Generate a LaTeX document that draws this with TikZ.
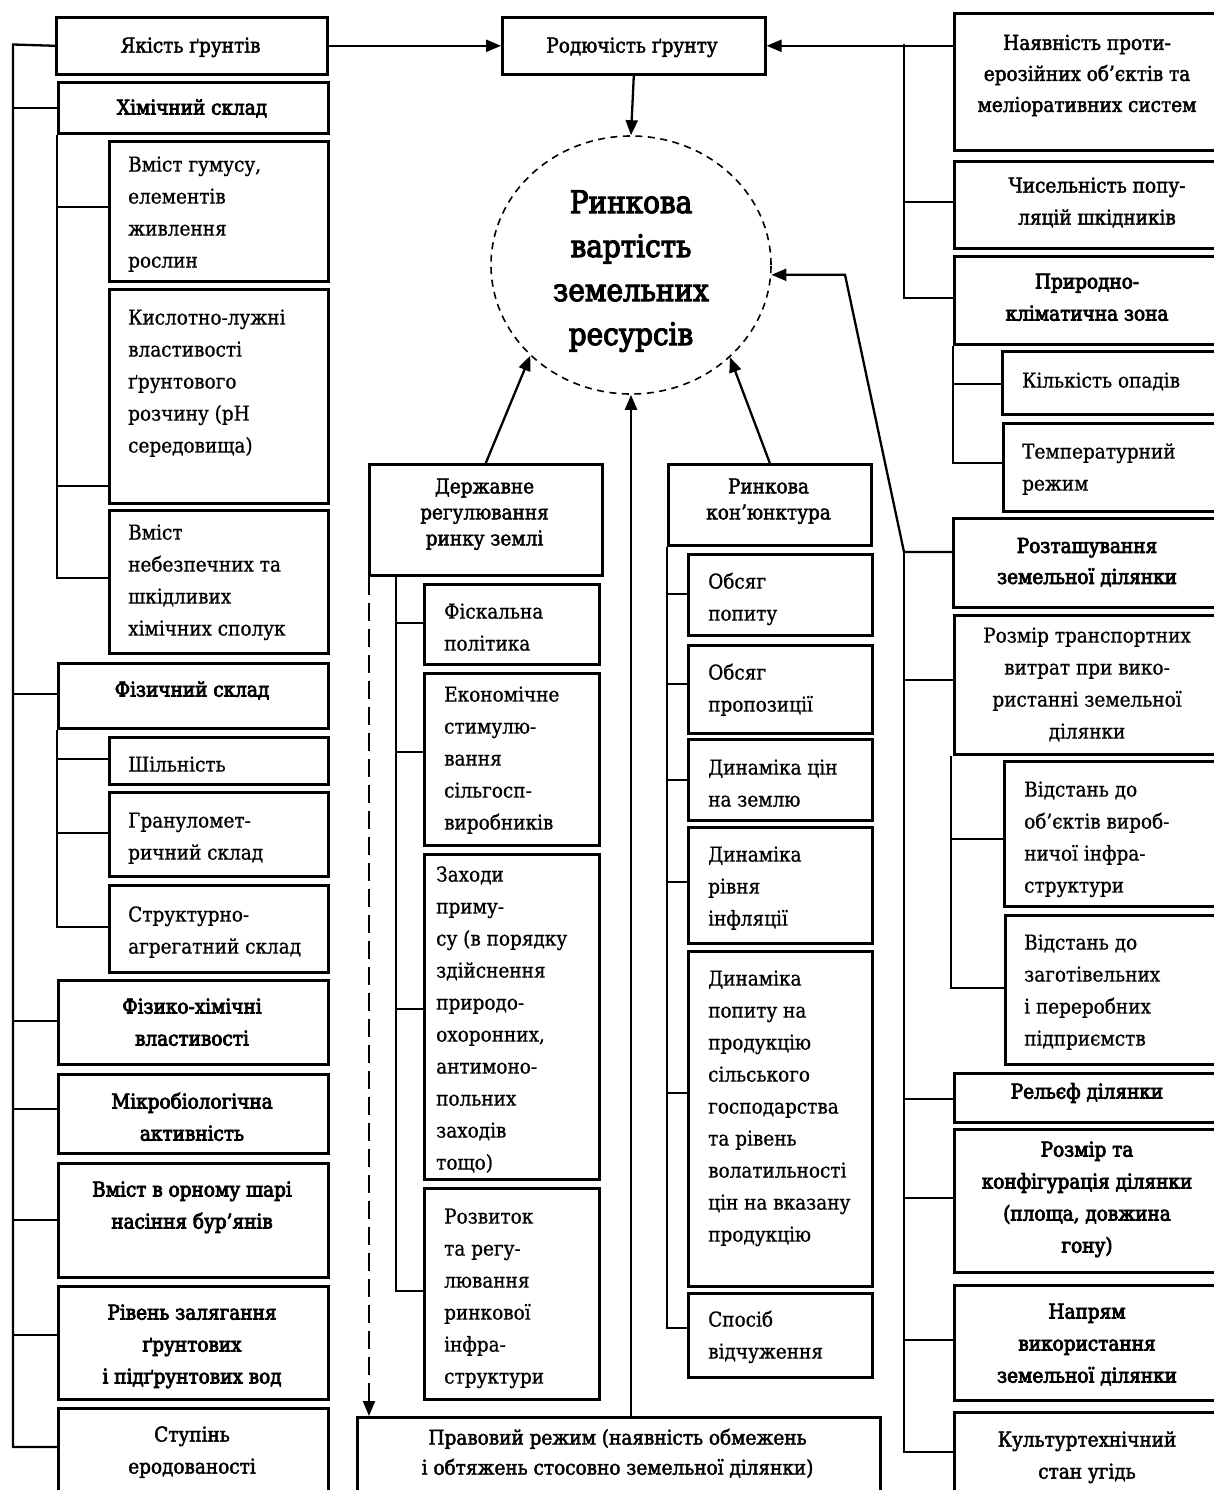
\documentclass[tikz,border=0pt]{standalone}
\usepackage{fontspec}
\setmainfont{DejaVu Serif Condensed}[FakeBold=0.8]
\newfontfamily\bdfam{DejaVu Serif Condensed}[FakeBold=3.6]
\newfontfamily\mdfam{DejaVu Serif Condensed}[FakeBold=2.0]
\usetikzlibrary{arrows.meta,shapes.geometric}
\newcommand\myR{\fontsize{20.5}{32}\selectfont}
\newcommand\myB{\bdfam\fontsize{20.5}{32}\selectfont}
\newcommand\myM{\mdfam\fontsize{20.5}{32}\selectfont}
\newcommand\bxn[5]{\node[bx,minimum width={#4-#2},minimum height={#5-#3}] (#1) at (#2,#3) {};}
\tikzset{
  bx/.style={draw, line width=2.6pt, inner sep=0pt, anchor=north west},
  ln/.style={line width=2.3pt},
  arr/.style={ln, -{Triangle[length=15pt,width=12pt]}},
  tl/.style={anchor=north west, align=left, inner sep=0pt},
  tc/.style={anchor=north, align=center, inner sep=0pt},
}
\begin{document}
\begin{tikzpicture}[x=1pt,y=-1pt]
\useasboundingbox (0,0) rectangle (1214,1490);
\clip (0,0) rectangle (1214,1490);
% ---------- boxes
\bxn{yakist}{55}{16}{326}{73}
\bxn{khim}{57}{81}{327}{132}
\bxn{gumus}{108}{140}{327}{280}
\bxn{kisl}{108}{288}{327}{502}
\bxn{nebezp}{108}{509}{327}{652}
\bxn{fiz}{57}{662}{327}{727}
\bxn{shil}{108}{736}{327}{783}
\bxn{gran}{108}{791}{327}{875}
\bxn{strukt}{108}{884}{327}{971}
\bxn{fizkhim}{57}{979}{327}{1063}
\bxn{mikro}{57}{1073}{327}{1152}
\bxn{burian}{57}{1162}{327}{1276}
\bxn{riven}{57}{1285}{327}{1398}
\bxn{stupin}{57}{1407}{327}{1500}
\bxn{rod}{501}{16}{764}{73}
\bxn{derzh}{368}{463}{601}{574}
\bxn{rk}{667}{463}{870}{544}
\bxn{fisk}{423}{583}{598}{663}
\bxn{ekon}{423}{672}{598}{844}
\bxn{zakh}{423}{853}{598}{1178}
\bxn{rozv}{423}{1187}{598}{1398}
\bxn{popyt}{687}{553}{871}{634}
\bxn{propoz}{687}{644}{871}{732}
\bxn{dyntsin}{687}{738}{871}{819}
\bxn{dyninf}{687}{826}{871}{942}
\bxn{dynpop}{687}{950}{871}{1285}
\bxn{sposib}{687}{1292}{871}{1376}
\bxn{pravo}{356}{1416}{879}{1500}
\bxn{nayav}{953}{12}{1221}{149}
\bxn{chys}{953}{160}{1221}{247}
\bxn{pryr}{953}{255}{1221}{343}
\bxn{opady}{1001}{350}{1221}{413}
\bxn{temp}{1002}{422}{1221}{510}
\bxn{roztash}{952}{517}{1221}{606}
\bxn{transp}{953}{614}{1221}{753}
\bxn{vidst1}{1003}{760}{1221}{905}
\bxn{vidst2}{1004}{914}{1221}{1063}
\bxn{relief}{953}{1072}{1221}{1121}
\bxn{rozmir}{953}{1128}{1221}{1271}
\bxn{napr}{953}{1284}{1221}{1399}
\bxn{kult}{953}{1411}{1221}{1500}
\node[ellipse, draw, line width=1.6pt, dash pattern=on 7pt off 5.5pt, minimum width=280pt, minimum height=258pt, inner sep=0pt] (rv) at (631,265) {};
% ---------- texts
\node[tc, font=\myM] (yakist-t) at (190.5,30) {\strut Якість ґрунтів};
\node[tc, font=\myB] (khim-t) at (192,92) {\strut Хімічний склад};
\node[tl, font=\myR] (gumus-t) at (128,149) {\strut Вміст гумусу,\\елементів\\живлення\\рослин};
\node[tl, font=\myR] (kisl-t) at (128,302) {\strut Кислотно-лужні\\властивості\\ґрунтового\\розчину (pH\\середовища)};
\node[tl, font=\myR] (nebezp-t) at (128,517) {\strut Вміст\\небезпечних та\\шкідливих\\хімічних сполук};
\node[tc, font=\myB] (fiz-t) at (192,674) {\strut Фізичний склад};
\node[tl, font=\myR] (shil-t) at (128,749) {\strut Шільність};
\node[tl, font=\myR] (gran-t) at (128,805) {\strut Грануломет-\\ричний склад};
\node[tl, font=\myR] (strukt-t) at (128,899) {\strut Структурно-\\агрегатний склад};
\node[tc, font=\myB] (fizkhim-t) at (192,991) {\strut Фізико-хімічні\\властивості};
\node[tc, font=\myB] (mikro-t) at (192,1086) {\strut Мікробіологічна\\активність};
\node[tc, font=\myB] (burian-t) at (192,1174) {\strut Вміст в орному шарі\\насіння бур’янів};
\node[tc, font=\myB] (riven-t) at (192,1297) {\strut Рівень залягання\\ґрунтових\\і підґрунтових вод};
\node[tc, font=\myM] (stupin-t) at (192,1419) {\strut Ступінь\\еродованості};
\node[tc, font=\myM] (rod-t) at (632,30) {\strut Родючість ґрунту};
\node[tc, font=\bdfam\fontsize{31}{44}\selectfont] (rv-t) at (631,182) {\strut Ринкова\\вартість\\земельних\\ресурсів};
\node[tc, font=\mdfam\fontsize{20.5}{26}\selectfont] (derzh-t) at (484.5,475) {\strut Державне\\регулювання\\ринку землі};
\node[tc, font=\mdfam\fontsize{20.5}{26}\selectfont] (rk-t) at (768.5,475) {\strut Ринкова\\кон’юнктура};
\node[tl, font=\myR] (fisk-t) at (444,596) {\strut Фіскальна\\політика};
\node[tl, font=\myR] (ekon-t) at (444,679) {\strut Економічне\\стимулю-\\вання\\сільгосп-\\виробників};
\node[tl, font=\myR] (zakh-t) at (436,859) {\strut Заходи\\приму-\\су (в порядку\\здійснення\\природо-\\охоронних,\\антимоно-\\польних\\заходів\\тощо)};
\node[tl, font=\myR] (rozv-t) at (444,1201) {\strut Розвиток\\та регу-\\лювання\\ринкової\\інфра-\\структури};
\node[tl, font=\myR] (popyt-t) at (708,566) {\strut Обсяг\\попиту};
\node[tl, font=\myR] (propoz-t) at (708,657) {\strut Обсяг\\пропозиції};
\node[tl, font=\myR] (dyntsin-t) at (708,752) {\strut Динаміка цін\\на землю};
\node[tl, font=\myR] (dyninf-t) at (708,839) {\strut Динаміка\\рівня\\інфляції};
\node[tl, font=\myR] (dynpop-t) at (708,963) {\strut Динаміка\\попиту на\\продукцію\\сільського\\господарства\\та рівень\\волатильності\\цін на вказану\\продукцію};
\node[tl, font=\myR] (sposib-t) at (708,1304) {\strut Спосіб\\відчуження};
\node[tc, font=\mdfam\fontsize{20.5}{30}\selectfont] (pravo-t) at (617.5,1423.5) {\strut Правовий режим (наявність обмежень\\і обтяжень стосовно земельної ділянки)};
\node[tc, font=\mdfam\fontsize{20.5}{31}\selectfont] (nayav-t) at (1087,28) {\strut Наявність проти-\\ерозійних об’єктів та\\меліоративних систем};
\node[tc, font=\myM] (chys-t) at (1097,170) {\strut Чисельність попу-\\ляцій шкідників};
\node[tc, font=\myB] (pryr-t) at (1087,266) {\strut Природно-\\кліматична зона};
\node[tl, font=\myR] (opady-t) at (1022,365) {\strut Кількість опадів};
\node[tl, font=\myR] (temp-t) at (1022,436) {\strut Температурний\\режим};
\node[tc, font=\bdfam\fontsize{20.5}{31}\selectfont] (roztash-t) at (1087,531) {\strut Розташування\\земельної ділянки};
\node[tc, font=\myR] (transp-t) at (1087,620) {\strut Розмір транспортних\\витрат при вико-\\ристанні земельної\\ділянки};
\node[tl, font=\myR] (vidst1-t) at (1024,774) {\strut Відстань до\\об’єктів вироб-\\ничої інфра-\\структури};
\node[tl, font=\myR] (vidst2-t) at (1024,927) {\strut Відстань до\\заготівельних\\і переробних\\підприємств};
\node[tc, font=\myB] (relief-t) at (1087,1076) {\strut Рельєф ділянки};
\node[tc, font=\myB] (rozmir-t) at (1087,1134) {\strut Розмір та\\конфігурація ділянки\\(площа, довжина\\гону)};
\node[tc, font=\myB] (napr-t) at (1087,1296) {\strut Напрям\\використання\\земельної ділянки};
\node[tc, font=\myM] (kult-t) at (1087,1424) {\strut Культуртехнічний\\стан угідь};
% ---------- left column connectors
\coordinate (L1) at (13,44.5);
\coordinate (L2) at (13,1447);
\draw[ln] (yakist.west) -- (L1) -- (L2) -- (stupin.west |- L2);
\foreach \n/\y in {khim/108, fiz/694, fizkhim/1021, mikro/1109, burian/1220, riven/1335}
  \draw[ln] (L1 |- 0,\y) -- (\n.west |- 0,\y);
\draw[ln] (khim.south west) |- (nebezp.west |- 0,578);
\draw[ln] (khim.south west |- 0,207) -- (gumus.west |- 0,207);
\draw[ln] (khim.south west |- 0,486) -- (kisl.west |- 0,486);
\draw[ln] (fiz.south west) |- (strukt.west |- 0,927);
\draw[ln] (fiz.south west |- 0,759) -- (shil.west |- 0,759);
\draw[ln] (fiz.south west |- 0,833) -- (gran.west |- 0,833);
% ---------- centre connectors
\draw[arr] (yakist.east) -- (rod.west);
\draw[arr] (rod.south) -- (rv.north);
\draw[arr] (derzh.north) -- (rv.222);
\draw[arr] (rk.north) -- (rv.317);
\draw[arr] (pravo.north -| rv.south) -- (rv.south);
\draw[ln, dash pattern=on 18pt off 8pt, -{Triangle[length=15pt,width=12pt]}] ([xshift=1pt]derzh.south west) -- ([xshift=1pt]derzh.south west |- pravo.north);
\coordinate (D1) at (derzh.south -| 396,0);
\draw[ln] (D1) |- (rozv.west |- 0,1291);
\foreach \n/\y in {fisk/623, ekon/752, zakh/1009}
  \draw[ln] (D1 |- 0,\y) -- (\n.west |- 0,\y);
\draw[ln] (rk.south west) |- (sposib.west |- 0,1328);
\foreach \n/\y in {popyt/594, propoz/684, dyntsin/780, dyninf/882, dynpop/1093}
  \draw[ln] (rk.south west |- 0,\y) -- (\n.west |- 0,\y);
% ---------- right column connectors
\draw[arr] (nayav.west |- rod.east) -- (rod.east);
\coordinate (R1) at (904,44.5);
\draw[ln] (R1) |- (pryr.west |- 0,298);
\draw[ln] (R1 |- 0,202) -- (chys.west |- 0,202);
\draw[ln] (pryr.south west) |- (temp.west |- 0,463);
\draw[ln] (pryr.south west |- 0,384) -- (opady.west |- 0,384);
\coordinate (R2) at (904,552);
\coordinate (R3) at (904,1452);
\coordinate (kink) at (rv.-4 -| 845,0);
\draw[arr] (roztash.west |- R2) -- (R2) -- (kink) -- (rv.-4);
\draw[ln] (R2) -- (R3) -- (kult.west |- R3);
\foreach \n/\y in {transp/680, relief/1099, rozmir/1198, napr/1340}
  \draw[ln] (R2 |- 0,\y) -- (\n.west |- 0,\y);
\draw[ln] ([xshift=-2pt]transp.south west) |- (vidst2.west |- 0,988);
\draw[ln] ([xshift=-2pt]transp.south west |- 0,839) -- (vidst1.west |- 0,839);
\end{tikzpicture}
\end{document}
